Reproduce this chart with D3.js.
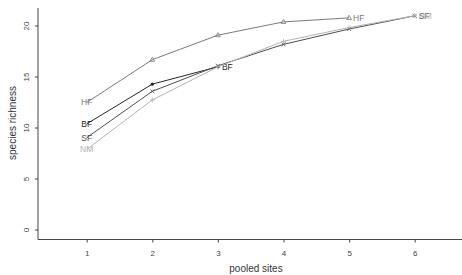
<!DOCTYPE html>
<html><head><meta charset="utf-8">
<script src="https://cdn.jsdelivr.net/npm/d3@7"></script>
<style>body{margin:0;background:#fff}svg{display:block}text{font-family:"Liberation Sans",Arial,sans-serif}</style>
</head><body>
<script>
const xTicks = [1,2,3,4,5,6];
const yTicks = [0,5,10,15,20];
const seriesNames = ["HF","BF","SF","NM"];
const hfValues = [12.5,16.7,19.1,20.4,20.8];
const bfValues = [10.4,14.3,16.0];
const sfValues = [9.05,13.6,16.1,18.2,19.7,21.0];
const nmValues = [7.9,12.75,16.0,18.5,19.85,21.0];
const seriesValues = [hfValues,bfValues,sfValues,nmValues];
const seriesColors = ["#7a7a7a","#262626","#4d4d4d","#b3b3b3"];
const seriesMarkers = ["triangle","dot","cross","plus"];

const W=462,H=275;
const svg=d3.select("body").append("svg").attr("width",W).attr("height",H);
const x=d3.scaleLinear().domain([1,6]).range([86.7,414.7]);
const y=d3.scaleLinear().domain([0,20]).range([230,26]);
const axisColor="#444";

// axes
svg.append("line").attr("x1",38).attr("x2",38).attr("y1",8).attr("y2",239.5).attr("stroke",axisColor).attr("stroke-width",1);
svg.append("line").attr("x1",38).attr("x2",462).attr("y1",239.5).attr("y2",239.5).attr("stroke",axisColor).attr("stroke-width",1);
const gx=svg.append("g").attr("transform","translate(0,239.5)")
  .call(d3.axisBottom(x).tickValues(xTicks).tickSize(3).tickPadding(8).tickFormat(d3.format("d")));
gx.select(".domain").remove();
gx.selectAll("line").attr("stroke",axisColor);
gx.selectAll("text").attr("font-size",8).attr("fill","#444").attr("font-family","Liberation Sans, Arial, sans-serif");
const gy=svg.append("g").attr("transform","translate(38,0)")
  .call(d3.axisLeft(y).tickValues(yTicks).tickSize(3).tickFormat(d3.format("d")));
gy.select(".domain").remove();
gy.selectAll("line").attr("stroke",axisColor);
gy.selectAll("text").attr("font-size",8).attr("fill","#444").attr("font-family","Liberation Sans, Arial, sans-serif")
  .attr("x",0).attr("dy",null).attr("text-anchor","middle")
  .attr("transform",d=>`translate(-9,${y(d)}) rotate(-90)`).attr("y",0);
gy.selectAll(".tick").attr("transform",null);
gy.selectAll(".tick line").attr("transform",d=>`translate(0,${y(d)})`);

svg.append("text").attr("x",256).attr("y",272).attr("text-anchor","middle").attr("font-size",10).attr("fill","#333").text("pooled sites");
svg.append("text").attr("transform","translate(12,123) rotate(-90)").attr("text-anchor","middle").attr("dy","0.35em").attr("font-size",10).attr("fill","#333").text("species richness");

const line=d3.line().x((d,i)=>x(i+1)).y(d=>y(d));
seriesValues.forEach((vals,k)=>{
  const c=seriesColors[k];
  const g=svg.append("g");
  g.append("path").datum(vals).attr("d",line).attr("fill","none").attr("stroke",c).attr("stroke-width",1);
  vals.forEach((v,i)=>{
    if(i===0) return;
    const px=x(i+1),py=y(v),m=seriesMarkers[k];
    if(m==="triangle") g.append("path").attr("d",`M${px},${py-2.6}L${px+2.4},${py+1.6}L${px-2.4},${py+1.6}Z`).attr("fill","none").attr("stroke",c).attr("stroke-width",0.8);
    else if(m==="dot") g.append("circle").attr("cx",px).attr("cy",py).attr("r",1.6).attr("fill",c);
    else if(m==="cross") g.append("path").attr("d",`M${px-2},${py-2}L${px+2},${py+2}M${px-2},${py+2}L${px+2},${py-2}`).attr("stroke",c).attr("stroke-width",0.8);
    else g.append("path").attr("d",`M${px-2.5},${py}L${px+2.5},${py}M${px},${py-2.5}L${px},${py+2.5}`).attr("stroke",c).attr("stroke-width",0.8);
  });
  g.append("text").attr("x",x(1)).attr("y",y(vals[0])).attr("dy","0.35em").attr("text-anchor","middle").attr("font-size",8.5).attr("fill",c).text(seriesNames[k]);
  const n=vals.length;
  g.append("text").attr("x",x(n)+4).attr("y",y(vals[n-1])).attr("dy","0.35em").attr("text-anchor","start").attr("font-size",8.5).attr("fill",c).text(seriesNames[k]);
});
</script>
</body></html>
